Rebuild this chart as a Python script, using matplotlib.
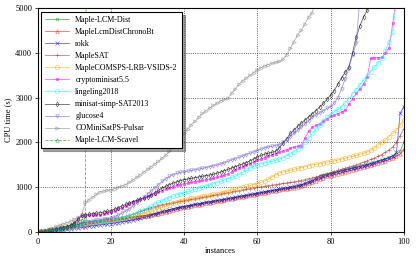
#!/usr/bin/env python3
# cactus plot: CPU time per solved instance, sorted
import matplotlib
matplotlib.use('Agg')
import matplotlib.pyplot as plt

maple_lcm_dist = [
    0, 10, 20, 32, 45, 58, 72, 88, 105, 125, 145,
    165, 190, 205, 215, 225, 235, 245, 255, 265, 275,
    285, 295, 305, 315, 325, 335, 345, 355, 365, 380,
    395, 410, 430, 450, 470, 490, 510, 530, 550, 570,
    585, 600, 615, 630, 645, 660, 675, 690, 700, 710,
    725, 740, 755, 770, 785, 800, 815, 830, 845, 860,
    875, 890, 905, 920, 935, 950, 965, 980, 995, 1010,
    1030, 1050, 1080, 1110, 1150, 1200, 1260, 1280, 1295, 1310,
    1330, 1350, 1370, 1390, 1410, 1430, 1450, 1470, 1490, 1510,
    1535, 1560, 1585, 1610, 1640, 1670, 1700, 1740, 1800, 2000]

chronobt = [
    0, 8, 16, 25, 35, 45, 60, 80, 95, 110, 125,
    140, 150, 165, 180, 195, 210, 225, 240, 250, 260,
    270, 280, 290, 300, 310, 320, 330, 345, 355, 365,
    380, 395, 410, 430, 450, 470, 490, 510, 530, 550,
    565, 580, 595, 610, 625, 640, 655, 670, 685, 700,
    715, 730, 745, 760, 775, 790, 805, 820, 835, 850,
    865, 880, 895, 910, 925, 940, 955, 965, 975, 990,
    1010, 1030, 1060, 1090, 1120, 1150, 1180, 1210, 1240, 1260,
    1280, 1300, 1320, 1345, 1365, 1385, 1405, 1425, 1445, 1465,
    1490, 1515, 1540, 1565, 1590, 1620, 1650, 1690, 1740, 1850]

rokk = [
    0, 5, 10, 16, 22, 30, 40, 52, 65, 78, 90,
    100, 110, 120, 130, 140, 150, 160, 170, 180, 190,
    200, 212, 225, 240, 255, 270, 290, 310, 335, 360,
    385, 410, 435, 460, 480, 500, 520, 540, 555, 570,
    585, 600, 615, 630, 645, 660, 675, 690, 705, 720,
    735, 750, 765, 780, 795, 810, 825, 840, 855, 870,
    885, 900, 915, 930, 945, 960, 975, 990, 1005, 1020,
    1040, 1060, 1090, 1120, 1150, 1180, 1210, 1240, 1270, 1300,
    1320, 1340, 1360, 1380, 1400, 1420, 1440, 1460, 1480, 1500,
    1525, 1550, 1575, 1600, 1630, 1660, 1700, 1780, 2650, 2800]

maplesat = [
    0, 10, 20, 32, 45, 58, 72, 88, 105, 125, 145,
    165, 185, 200, 215, 230, 240, 250, 260, 270, 280,
    295, 310, 330, 350, 375, 400, 430, 460, 490, 520,
    545, 570, 590, 610, 625, 640, 655, 670, 685, 700,
    715, 730, 745, 760, 775, 790, 805, 820, 835, 850,
    865, 880, 895, 910, 925, 940, 955, 970, 985, 1000,
    1012, 1024, 1036, 1048, 1060, 1072, 1084, 1096, 1108, 1120,
    1135, 1150, 1170, 1190, 1210, 1230, 1250, 1275, 1300, 1325,
    1350, 1375, 1400, 1425, 1450, 1475, 1500, 1530, 1560, 1590,
    1620, 1650, 1690, 1730, 1780, 1830, 1900, 2000, 2150, 2300]

comsps = [
    0, 12, 25, 38, 52, 66, 80, 95, 110, 125, 140,
    155, 170, 185, 200, 210, 220, 230, 240, 250, 260,
    275, 290, 305, 320, 335, 350, 370, 390, 410, 430,
    460, 490, 520, 550, 580, 610, 640, 670, 700, 720,
    740, 755, 770, 785, 800, 815, 830, 845, 860, 880,
    900, 920, 940, 960, 980, 1000, 1020, 1040, 1060, 1080,
    1110, 1140, 1180, 1230, 1280, 1320, 1340, 1360, 1380, 1400,
    1420, 1440, 1460, 1480, 1500, 1515, 1530, 1545, 1560, 1575,
    1590, 1610, 1630, 1650, 1670, 1690, 1710, 1735, 1760, 1790,
    1830, 1880, 1940, 2000, 2060, 2130, 2200, 2280, 2380, 2500]

cryptominisat = [
    0, 12, 25, 40, 55, 70, 85, 100, 120, 150, 200,
    280, 355, 365, 370, 375, 380, 385, 410, 430, 450,
    480, 510, 545, 580, 620, 660, 700, 740, 770, 800,
    830, 860, 890, 920, 950, 980, 1010, 1040, 1060, 1080,
    1095, 1110, 1125, 1140, 1155, 1170, 1185, 1200, 1220, 1240,
    1270, 1300, 1340, 1380, 1420, 1460, 1500, 1530, 1560, 1600,
    1630, 1660, 1690, 1720, 1750, 1780, 1810, 1840, 1870, 1900,
    1910, 1930, 2100, 2250, 2340, 2380, 2420, 2470, 2520, 2580,
    2610, 2640, 2680, 2720, 2850, 2980, 3100, 3200, 3300, 3460,
    3880, 3890, 3895, 3900, 4000, 4120, 4660, 5300]

lingeling = [
    0, 8, 16, 26, 36, 48, 60, 75, 92, 110, 130,
    150, 175, 200, 215, 225, 235, 245, 255, 262, 270,
    285, 300, 320, 340, 365, 390, 420, 460, 500, 540,
    580, 620, 660, 700, 740, 770, 800, 830, 855, 880,
    905, 930, 955, 980, 1005, 1030, 1055, 1080, 1105, 1130,
    1160, 1190, 1220, 1250, 1290, 1330, 1380, 1430, 1470, 1500,
    1520, 1540, 1560, 1580, 1600, 1630, 1660, 1700, 1740, 1790,
    1850, 1920, 2000, 2100, 2200, 2290, 2380, 2470, 2560, 2620,
    2680, 2740, 2800, 2880, 2980, 3080, 3180, 3290, 3390, 3480,
    3580, 3680, 3780, 3880, 4050, 4250, 4460, 5200]

minisat = [
    0, 12, 25, 40, 55, 70, 85, 100, 120, 150, 200,
    290, 370, 390, 400, 410, 420, 430, 445, 460, 475,
    510, 545, 580, 615, 650, 680, 705, 730, 755, 780,
    830, 880, 930, 980, 1020, 1060, 1090, 1120, 1150, 1170,
    1185, 1200, 1215, 1230, 1245, 1260, 1275, 1290, 1315, 1340,
    1370, 1400, 1430, 1460, 1490, 1520, 1550, 1590, 1630, 1680,
    1710, 1740, 1760, 1780, 1800, 1880, 1980, 2080, 2200, 2280,
    2360, 2430, 2500, 2570, 2640, 2710, 2790, 2870, 2960, 3060,
    3160, 3300, 3440, 3570, 3680, 4000, 4350, 4600, 4800, 4950,
    5200]

glucose = [
    0, 10, 20, 32, 45, 58, 70, 80, 95, 115, 140,
    170, 200, 215, 230, 245, 260, 275, 290, 300, 310,
    340, 380, 420, 470, 520, 580, 640, 710, 780, 850,
    920, 990, 1060, 1130, 1190, 1240, 1280, 1310, 1330, 1345,
    1360, 1375, 1390, 1405, 1420, 1440, 1460, 1480, 1495, 1520,
    1550, 1580, 1610, 1640, 1670, 1700, 1730, 1760, 1790, 1820,
    1850, 1880, 1900, 1915, 1930, 1950, 2010, 2070, 2130, 2200,
    2270, 2340, 2410, 2480, 2560, 2610, 2660, 2710, 2760, 2800,
    2880, 3000, 3200, 3420, 3650, 3950, 4210, 5200]

pulsar = [
    0, 25, 50, 75, 100, 125, 150, 180, 210, 240, 280,
    330, 380, 660, 720, 780, 840, 900, 915, 930, 945,
    970, 1000, 1030, 1060, 1110, 1160, 1220, 1280, 1340, 1400,
    1460, 1520, 1580, 1650, 1720, 1800, 1900, 2000, 2100, 2200,
    2300, 2400, 2480, 2560, 2650, 2710, 2770, 2830, 2880, 2930,
    2960, 2990, 3100, 3200, 3300, 3380, 3440, 3500, 3560, 3620,
    3670, 3710, 3740, 3770, 3790, 3810, 3860, 3950, 4100, 4250,
    4400, 4500, 4650, 4800, 4900, 5200]

scavel = [0, 10, 20, 35, 50, 70, 90, 110, 135, 160, 190, 230, 270, 310, 20000]

series = [
    ('Maple-LCM-Dist', maple_lcm_dist, 'green', 'o', '-', 2),
    ('MapleLcmDistChronoBt', chronobt, 'red', '^', '-', 2.5),
    ('rokk', rokk, 'blue', 'x', '-', 2.5),
    ('MapleSAT', maplesat, 'brown', '+', '-', 2.5),
    ('MapleCOMSPS-LRB-VSIDS-2', comsps, 'orange', 'o', '-', 3.2),
    ('cryptominisat5.5', cryptominisat, 'magenta', 's', '-', 2),
    ('lingeling2018', lingeling, 'cyan', 'o', '-', 3.2),
    ('minisat-simp-SAT2013', minisat, 'black', 'd', '-', 2.5),
    ('glucose4', glucose, 'slateblue', 'v', '-', 2.5),
    ('COMiniSatPS-Pulsar', pulsar, 'gray', '>', '-', 2.5),
    ('Maple-LCM-Scavel', scavel, 'green', '^', '--', 2.5),
]

plt.rcParams['font.family'] = ['Liberation Serif', 'DejaVu Serif']
plt.rcParams['font.size'] = 6

fig = plt.figure(figsize=(4.16, 2.61), dpi=100)
ax = fig.add_axes([0.0906, 0.111, 0.880, 0.858])

for nombre, vals, color, marker, ls, ms in series:
    filled = color if marker in ('s',) else 'none'
    ax.plot(range(len(vals)), vals, color=color, marker=marker, linestyle=ls,
            linewidth=0.6, markersize=ms, markeredgewidth=0.5,
            markerfacecolor=filled, alpha=0.6, label=nombre)

ax.set_xlim(0, 100)
ax.set_ylim(0, 5000)
ax.set_xticks([0, 20, 40, 60, 80, 100])
ax.set_yticks([0, 1000, 2000, 3000, 4000, 5000])
ax.grid(True, linestyle=':', color='black', linewidth=0.6, alpha=0.8)
ax.tick_params(length=2, width=0.5, pad=2)
for s in ax.spines.values():
    s.set_linewidth(0.8)
ax.set_xlabel('instances', labelpad=1)
ax.set_ylabel('CPU time (s)', labelpad=2)

leg = ax.legend(loc='upper left', bbox_to_anchor=(0.008, 0.982), fancybox=False,
                shadow=True, framealpha=1, edgecolor='black', fontsize=5.8,
                handlelength=3, handletextpad=0.8, labelspacing=0.5,
                borderpad=0.5, borderaxespad=0)
leg.get_frame().set_linewidth(0.8)

fig.savefig('out.png', dpi=100)
